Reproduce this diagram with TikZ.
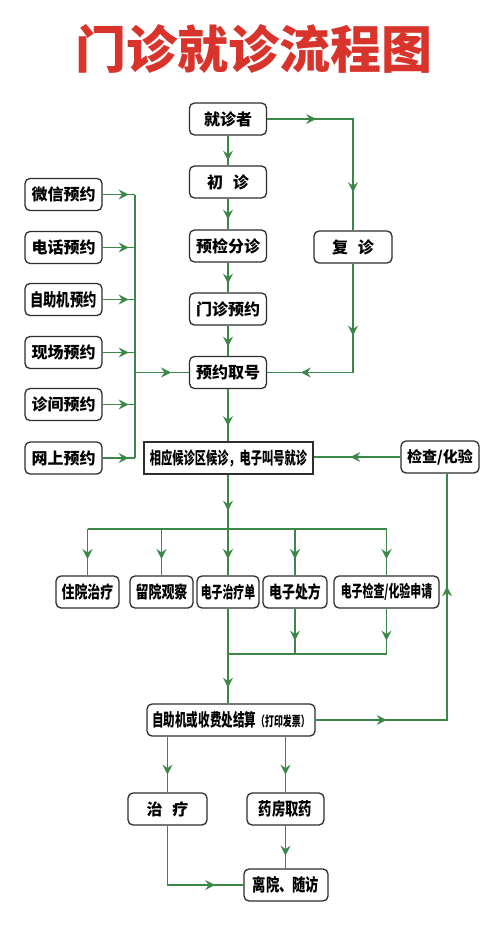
\documentclass[tikz,border=0pt]{standalone}
\usepackage{fontspec}
\setmainfont{Noto Sans CJK SC}
\newfontfamily\cpa{Noto Sans CJK SC}[FakeStretch=0.66]
\newfontfamily\cpb{Noto Sans CJK SC}[FakeStretch=0.76]
\usetikzlibrary{arrows.meta,decorations.markings}
\definecolor{gline}{HTML}{3A8748}
\definecolor{boxc}{HTML}{2E2E2E}
\definecolor{titlered}{HTML}{D8342C}
\begin{document}
\begin{tikzpicture}[x=1pt,y=-1pt,
 bx/.style={draw=boxc,line width=1.3pt,rounded corners=5pt,fill=white,minimum height=32pt,inner sep=0pt,font=\bfseries\fontsize{16}{16}\selectfont},
 bxa/.style={bx,font=\cpa\bfseries\fontsize{#1}{#1}\selectfont},
 bxb/.style={bx,font=\cpb\bfseries\fontsize{#1}{#1}\selectfont},
 ln/.style={draw=gline,line width=1.5pt},
 ma/.style={postaction={decorate,decoration={markings,mark=at position #1 with {\arrow{Stealth[length=10pt,width=10pt,inset=3.5pt]}}}}}]
\useasboundingbox[fill=white] (0,0) rectangle (500,929);
\node[font=\bfseries\fontsize{51}{51}\selectfont,text=titlered] (title) at (254,49) {门诊就诊流程图};
% main column
\node[bx,minimum width=77pt] (jzz) at (228,119) {就诊者};
\node[bx,minimum width=77pt] (cz) at (228,182) {初\hspace{0.6em}诊};
\node[bx,minimum width=77pt] (yj) at (228,246) {预检分诊};
\node[bx,minimum width=77pt] (mz) at (228,309) {门诊预约};
\node[bx,minimum width=77pt] (yy) at (228,372.5) {预约取号};
\node[bx,minimum width=78pt] (fz) at (353,247) {复\hspace{0.6em}诊};
% left column
\node[bx,minimum width=77pt] (wx) at (63.5,194.5) {微信预约};
\node[bx,minimum width=77pt] (dh) at (63.5,247.5) {电话预约};
\node[bxb=17.5,minimum width=77pt] (zz) at (63.5,299.5) {自助机预约};
\node[bx,minimum width=77pt] (xc) at (63.5,352.5) {现场预约};
\node[bx,minimum width=77pt] (zj) at (63.5,404.5) {诊间预约};
\node[bx,minimum width=77pt] (ws) at (63.5,458) {网上预约};
% waiting
\node[bxa=17,sharp corners,minimum width=169pt] (xz) at (228.5,458) {相应候诊区候诊，电子叫号就诊};
\node[bx,minimum width=78pt,font=\bfseries\fontsize{15}{15}\selectfont] (jc) at (440,457) {检查/化验};
% row
\node[bxb=17,minimum width=63pt] (zy) at (87.5,592) {住院治疗};
\node[bxb=17,minimum width=63pt] (lg) at (161.5,592) {留院观察};
\node[bxa=16.5,minimum width=62pt] (zl) at (228,592) {电子治疗单};
\node[bxb=17,minimum width=64pt] (cf) at (295,592) {电子处方};
\node[bxa=16.5,minimum width=105pt] (jq) at (386.5,592) {电子检查/化验申请};
% payment
\node[bxa=17.5,minimum width=168pt] (js) at (231,720) {自助机或收费处结算{\fontsize{13.5}{13.5}\selectfont（打印发票）}};
\node[bx,minimum width=79pt] (zl2) at (167.5,809) {治\hspace{0.6em}疗};
\node[bxb=17.5,minimum width=77pt] (yf) at (285.5,809) {药房取药};
\node[bxb=17.5,minimum width=84pt] (ly) at (286,885) {离院、随访};
% helper coordinates
\coordinate (bus) at (135,0);
\coordinate (bus2) at (0,529);
\coordinate (bus3) at (0,654);
% connectors
\draw[ln,ma=25pt] (jzz.south) -- (cz.north);
\draw[ln,ma=21pt] (cz.south) -- (yj.north);
\draw[ln,ma=21pt] (yj.south) -- (mz.north);
\draw[ln,ma=21pt] (mz.south) -- (yy.north);
\draw[ln,ma=49pt,ma=159pt] (jzz.east) -| (fz.north);
\draw[ln,ma=72pt,ma=161pt] (fz.south) |- (yy.east);
\foreach \n in {wx,dh,zz,xc,zj,ws}{\draw[ln,ma=26pt] (\n.east) -- (\n.east -| bus);}
\draw[ln] (wx.east -| bus) -- (ws.east -| bus);
\draw[ln,ma=36pt] (yy.west -| bus) -- (yy.west);
\draw[ln,ma=37pt] (yy.south) -- (yy.south |- xz.north);
\draw[ln,ma=50pt] (jc.west) -- (jc.west -| xz.east);
\draw[ln,ma=36pt] (xz.south -| yy.south) -- (yy.south |- bus2);
\draw[ln] (zy.north |- bus2) -- (jq.north |- bus2);
\foreach \n in {zy,lg,zl,cf,jq}{\draw[ln,ma=30pt] (\n.north |- bus2) -- (\n.north);}
\draw[ln,ma=32pt] (cf.south) -- (cf.south |- bus3);
\draw[ln,ma=32pt] (jq.south) -- (jq.south |- bus3);
\draw[ln] (zl.south |- bus3) -- (jq.south |- bus3);
\draw[ln,ma=79pt] (zl.south) -- (zl.south |- js.north);
\draw[ln,ma=71pt,ma=265pt] (js.east) -| ([xshift=7pt]jc.south);
\draw[ln,ma=38pt] (js.south -| zl2.north) -- (zl2.north);
\draw[ln,ma=38pt] (js.south -| yf.north) -- (yf.north);
\draw[ln,ma=30pt] (yf.south) -- (yf.south |- ly.north);
\draw[ln,ma=107pt] (zl2.south) |- (ly.west);
\end{tikzpicture}
\end{document}
